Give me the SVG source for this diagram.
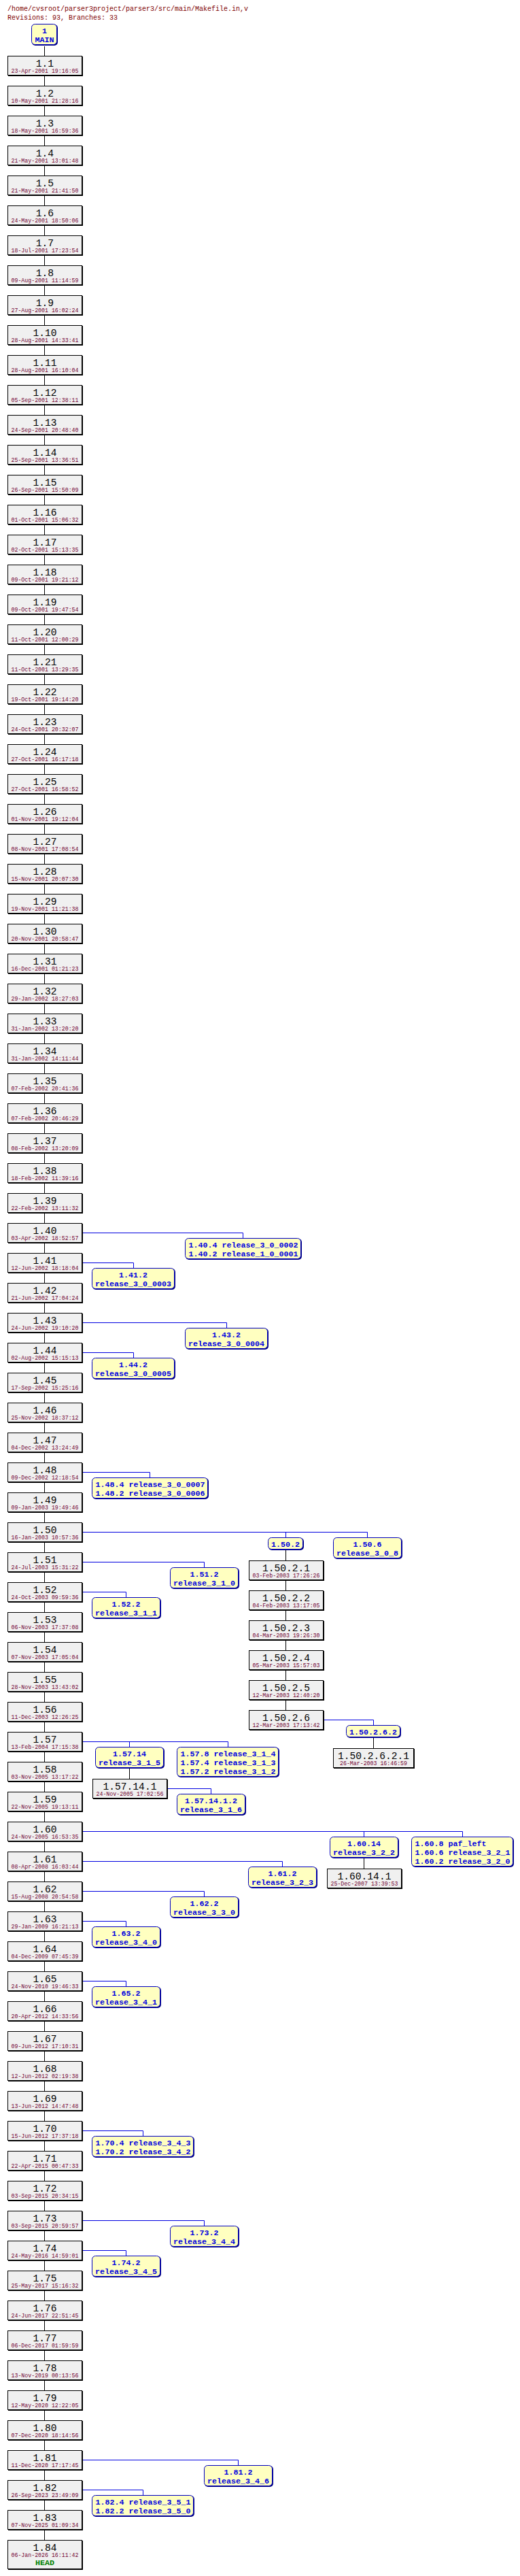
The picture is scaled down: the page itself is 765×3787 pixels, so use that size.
<svg xmlns="http://www.w3.org/2000/svg" xmlns:xlink="http://www.w3.org/1999/xlink" width="765" height="3787" viewBox="0 0 765 3787">
<style>
.b{fill:#f0f0f0;stroke:#000}
.t{fill:#ffffc0;stroke:#0000c0}
.ts{fill:#000080}
.r{font-family:"Liberation Mono",monospace;font-size:14.6px;text-anchor:middle;fill:#000}
.d{font-family:"Liberation Mono",monospace;font-size:8.25px;text-anchor:middle;fill:#700030}
.g{font-family:"Liberation Mono",monospace;font-size:11.67px;font-weight:bold;fill:#0000e0}
.m{text-anchor:middle}
.hd{font-family:"Liberation Mono",monospace;font-size:11.67px;font-weight:bold;fill:#008000;text-anchor:middle}
.k{stroke:#000;fill:none}
.u{stroke:#0000e0;fill:none}
.h{font-family:"Liberation Mono",monospace;font-size:10px;fill:#800000}
</style>
<defs>
<g id="bx"><rect x="1" y="1" width="110" height="29" fill="#000"/><rect x="0.5" y="0.5" width="109" height="28" class="b"/></g>
<g id="bxw"><rect x="1" y="1" width="119" height="29" fill="#000"/><rect x="0.5" y="0.5" width="118" height="28" class="b"/></g>
<g id="bxh"><rect x="1" y="1" width="110" height="43" fill="#000"/><rect x="0.5" y="0.5" width="109" height="42" class="b"/></g>
</defs>
<rect width="765" height="3787" fill="#fff"/>
<g id="title">
<text class="h" x="11" y="16">/home/cvsroot/parser3project/parser3/src/main/Makefile.in,v</text>
<text class="h" x="11" y="29">Revisions: 93, Branches: 33</text>
</g>
<g id="connectors">
<path class="k" d="M65.5,68V3734M420.5,2279V2514M549.5,2555V2570M190.5,2600V2615M535.5,2731V2747"/>
<path class="u" d="M122,1812.5H357.5V1820M122,1856.5H196.5V1864M122,1944.5H333.5V1952M122,1988.5H196.5V1996M122,2164.5H220.5V2172M122,2252.5H540.5V2260M420.5,2252.5V2260M477,2528.5H549.5V2536M122,2296.5H300.5V2304M122,2340.5H185.5V2348M122,2560.5H335.5V2568M190.5,2560.5V2568M247,2629.5H310.5V2637M122,2692.5H680.5V2700M535.5,2692.5V2700M122,2736.5H415.5V2744M122,2780.5H300.5V2788M122,2824.5H185.5V2832M122,2912.5H185.5V2920M122,3132.5H210.5V3140M122,3264.5H300.5V3272M122,3308.5H185.5V3316M122,3616.5H350.5V3624M122,3660.5H210.5V3668"/>
</g>
<g id="tMAIN"><rect class="ts" x="47" y="36" width="38" height="31" rx="5"/><rect class="t" x="46.5" y="35.5" width="37" height="30" rx="5"/><text class="g m" x="65.5" y="49">1</text><text class="g m" x="65.5" y="62">MAIN</text></g>
<g id="r1_1" transform="translate(11,82)"><use href="#bx"/><text class="r" x="55" y="16">1.1</text><text class="d" x="55" y="25">23-Apr-2001 19:16:05</text></g>
<g id="r1_2" transform="translate(11,126)"><use href="#bx"/><text class="r" x="55" y="16">1.2</text><text class="d" x="55" y="25">10-May-2001 21:28:16</text></g>
<g id="r1_3" transform="translate(11,170)"><use href="#bx"/><text class="r" x="55" y="16">1.3</text><text class="d" x="55" y="25">18-May-2001 16:59:36</text></g>
<g id="r1_4" transform="translate(11,214)"><use href="#bx"/><text class="r" x="55" y="16">1.4</text><text class="d" x="55" y="25">21-May-2001 13:01:48</text></g>
<g id="r1_5" transform="translate(11,258)"><use href="#bx"/><text class="r" x="55" y="16">1.5</text><text class="d" x="55" y="25">21-May-2001 21:41:50</text></g>
<g id="r1_6" transform="translate(11,302)"><use href="#bx"/><text class="r" x="55" y="16">1.6</text><text class="d" x="55" y="25">24-May-2001 18:50:06</text></g>
<g id="r1_7" transform="translate(11,346)"><use href="#bx"/><text class="r" x="55" y="16">1.7</text><text class="d" x="55" y="25">18-Jul-2001 17:23:54</text></g>
<g id="r1_8" transform="translate(11,390)"><use href="#bx"/><text class="r" x="55" y="16">1.8</text><text class="d" x="55" y="25">09-Aug-2001 11:14:59</text></g>
<g id="r1_9" transform="translate(11,434)"><use href="#bx"/><text class="r" x="55" y="16">1.9</text><text class="d" x="55" y="25">27-Aug-2001 16:02:24</text></g>
<g id="r1_10" transform="translate(11,478)"><use href="#bx"/><text class="r" x="55" y="16">1.10</text><text class="d" x="55" y="25">28-Aug-2001 14:33:41</text></g>
<g id="r1_11" transform="translate(11,522)"><use href="#bx"/><text class="r" x="55" y="16">1.11</text><text class="d" x="55" y="25">28-Aug-2001 16:10:04</text></g>
<g id="r1_12" transform="translate(11,566)"><use href="#bx"/><text class="r" x="55" y="16">1.12</text><text class="d" x="55" y="25">05-Sep-2001 12:38:11</text></g>
<g id="r1_13" transform="translate(11,610)"><use href="#bx"/><text class="r" x="55" y="16">1.13</text><text class="d" x="55" y="25">24-Sep-2001 20:48:40</text></g>
<g id="r1_14" transform="translate(11,654)"><use href="#bx"/><text class="r" x="55" y="16">1.14</text><text class="d" x="55" y="25">25-Sep-2001 13:36:51</text></g>
<g id="r1_15" transform="translate(11,698)"><use href="#bx"/><text class="r" x="55" y="16">1.15</text><text class="d" x="55" y="25">26-Sep-2001 15:50:09</text></g>
<g id="r1_16" transform="translate(11,742)"><use href="#bx"/><text class="r" x="55" y="16">1.16</text><text class="d" x="55" y="25">01-Oct-2001 15:06:32</text></g>
<g id="r1_17" transform="translate(11,786)"><use href="#bx"/><text class="r" x="55" y="16">1.17</text><text class="d" x="55" y="25">02-Oct-2001 15:13:35</text></g>
<g id="r1_18" transform="translate(11,830)"><use href="#bx"/><text class="r" x="55" y="16">1.18</text><text class="d" x="55" y="25">09-Oct-2001 19:21:12</text></g>
<g id="r1_19" transform="translate(11,874)"><use href="#bx"/><text class="r" x="55" y="16">1.19</text><text class="d" x="55" y="25">09-Oct-2001 19:47:54</text></g>
<g id="r1_20" transform="translate(11,918)"><use href="#bx"/><text class="r" x="55" y="16">1.20</text><text class="d" x="55" y="25">11-Oct-2001 12:00:29</text></g>
<g id="r1_21" transform="translate(11,962)"><use href="#bx"/><text class="r" x="55" y="16">1.21</text><text class="d" x="55" y="25">11-Oct-2001 13:29:35</text></g>
<g id="r1_22" transform="translate(11,1006)"><use href="#bx"/><text class="r" x="55" y="16">1.22</text><text class="d" x="55" y="25">19-Oct-2001 19:14:20</text></g>
<g id="r1_23" transform="translate(11,1050)"><use href="#bx"/><text class="r" x="55" y="16">1.23</text><text class="d" x="55" y="25">24-Oct-2001 20:32:07</text></g>
<g id="r1_24" transform="translate(11,1094)"><use href="#bx"/><text class="r" x="55" y="16">1.24</text><text class="d" x="55" y="25">27-Oct-2001 16:17:18</text></g>
<g id="r1_25" transform="translate(11,1138)"><use href="#bx"/><text class="r" x="55" y="16">1.25</text><text class="d" x="55" y="25">27-Oct-2001 16:58:52</text></g>
<g id="r1_26" transform="translate(11,1182)"><use href="#bx"/><text class="r" x="55" y="16">1.26</text><text class="d" x="55" y="25">01-Nov-2001 19:12:04</text></g>
<g id="r1_27" transform="translate(11,1226)"><use href="#bx"/><text class="r" x="55" y="16">1.27</text><text class="d" x="55" y="25">08-Nov-2001 17:08:54</text></g>
<g id="r1_28" transform="translate(11,1270)"><use href="#bx"/><text class="r" x="55" y="16">1.28</text><text class="d" x="55" y="25">15-Nov-2001 20:07:30</text></g>
<g id="r1_29" transform="translate(11,1314)"><use href="#bx"/><text class="r" x="55" y="16">1.29</text><text class="d" x="55" y="25">19-Nov-2001 11:21:38</text></g>
<g id="r1_30" transform="translate(11,1358)"><use href="#bx"/><text class="r" x="55" y="16">1.30</text><text class="d" x="55" y="25">20-Nov-2001 20:58:47</text></g>
<g id="r1_31" transform="translate(11,1402)"><use href="#bx"/><text class="r" x="55" y="16">1.31</text><text class="d" x="55" y="25">16-Dec-2001 01:21:23</text></g>
<g id="r1_32" transform="translate(11,1446)"><use href="#bx"/><text class="r" x="55" y="16">1.32</text><text class="d" x="55" y="25">29-Jan-2002 18:27:03</text></g>
<g id="r1_33" transform="translate(11,1490)"><use href="#bx"/><text class="r" x="55" y="16">1.33</text><text class="d" x="55" y="25">31-Jan-2002 13:20:20</text></g>
<g id="r1_34" transform="translate(11,1534)"><use href="#bx"/><text class="r" x="55" y="16">1.34</text><text class="d" x="55" y="25">31-Jan-2002 14:11:44</text></g>
<g id="r1_35" transform="translate(11,1578)"><use href="#bx"/><text class="r" x="55" y="16">1.35</text><text class="d" x="55" y="25">07-Feb-2002 20:41:36</text></g>
<g id="r1_36" transform="translate(11,1622)"><use href="#bx"/><text class="r" x="55" y="16">1.36</text><text class="d" x="55" y="25">07-Feb-2002 20:46:29</text></g>
<g id="r1_37" transform="translate(11,1666)"><use href="#bx"/><text class="r" x="55" y="16">1.37</text><text class="d" x="55" y="25">08-Feb-2002 13:20:09</text></g>
<g id="r1_38" transform="translate(11,1710)"><use href="#bx"/><text class="r" x="55" y="16">1.38</text><text class="d" x="55" y="25">18-Feb-2002 11:39:16</text></g>
<g id="r1_39" transform="translate(11,1754)"><use href="#bx"/><text class="r" x="55" y="16">1.39</text><text class="d" x="55" y="25">22-Feb-2002 13:11:32</text></g>
<g id="r1_40" transform="translate(11,1798)"><use href="#bx"/><text class="r" x="55" y="16">1.40</text><text class="d" x="55" y="25">03-Apr-2002 18:52:57</text></g>
<g id="r1_41" transform="translate(11,1842)"><use href="#bx"/><text class="r" x="55" y="16">1.41</text><text class="d" x="55" y="25">12-Jun-2002 18:18:04</text></g>
<g id="r1_42" transform="translate(11,1886)"><use href="#bx"/><text class="r" x="55" y="16">1.42</text><text class="d" x="55" y="25">21-Jun-2002 17:04:24</text></g>
<g id="r1_43" transform="translate(11,1930)"><use href="#bx"/><text class="r" x="55" y="16">1.43</text><text class="d" x="55" y="25">24-Jun-2002 19:10:20</text></g>
<g id="r1_44" transform="translate(11,1974)"><use href="#bx"/><text class="r" x="55" y="16">1.44</text><text class="d" x="55" y="25">02-Aug-2002 15:15:13</text></g>
<g id="r1_45" transform="translate(11,2018)"><use href="#bx"/><text class="r" x="55" y="16">1.45</text><text class="d" x="55" y="25">17-Sep-2002 15:25:16</text></g>
<g id="r1_46" transform="translate(11,2062)"><use href="#bx"/><text class="r" x="55" y="16">1.46</text><text class="d" x="55" y="25">25-Nov-2002 18:37:12</text></g>
<g id="r1_47" transform="translate(11,2106)"><use href="#bx"/><text class="r" x="55" y="16">1.47</text><text class="d" x="55" y="25">04-Dec-2002 13:24:49</text></g>
<g id="r1_48" transform="translate(11,2150)"><use href="#bx"/><text class="r" x="55" y="16">1.48</text><text class="d" x="55" y="25">09-Dec-2002 12:18:54</text></g>
<g id="r1_49" transform="translate(11,2194)"><use href="#bx"/><text class="r" x="55" y="16">1.49</text><text class="d" x="55" y="25">09-Jan-2003 19:49:46</text></g>
<g id="r1_50" transform="translate(11,2238)"><use href="#bx"/><text class="r" x="55" y="16">1.50</text><text class="d" x="55" y="25">16-Jan-2003 10:57:36</text></g>
<g id="r1_51" transform="translate(11,2282)"><use href="#bx"/><text class="r" x="55" y="16">1.51</text><text class="d" x="55" y="25">24-Jul-2003 15:31:22</text></g>
<g id="r1_52" transform="translate(11,2326)"><use href="#bx"/><text class="r" x="55" y="16">1.52</text><text class="d" x="55" y="25">24-Oct-2003 09:59:36</text></g>
<g id="r1_53" transform="translate(11,2370)"><use href="#bx"/><text class="r" x="55" y="16">1.53</text><text class="d" x="55" y="25">06-Nov-2003 17:37:08</text></g>
<g id="r1_54" transform="translate(11,2414)"><use href="#bx"/><text class="r" x="55" y="16">1.54</text><text class="d" x="55" y="25">07-Nov-2003 17:05:04</text></g>
<g id="r1_55" transform="translate(11,2458)"><use href="#bx"/><text class="r" x="55" y="16">1.55</text><text class="d" x="55" y="25">28-Nov-2003 13:43:02</text></g>
<g id="r1_56" transform="translate(11,2502)"><use href="#bx"/><text class="r" x="55" y="16">1.56</text><text class="d" x="55" y="25">11-Dec-2003 12:26:25</text></g>
<g id="r1_57" transform="translate(11,2546)"><use href="#bx"/><text class="r" x="55" y="16">1.57</text><text class="d" x="55" y="25">13-Feb-2004 17:15:38</text></g>
<g id="r1_58" transform="translate(11,2590)"><use href="#bx"/><text class="r" x="55" y="16">1.58</text><text class="d" x="55" y="25">03-Nov-2005 13:17:22</text></g>
<g id="r1_59" transform="translate(11,2634)"><use href="#bx"/><text class="r" x="55" y="16">1.59</text><text class="d" x="55" y="25">22-Nov-2005 19:13:11</text></g>
<g id="r1_60" transform="translate(11,2678)"><use href="#bx"/><text class="r" x="55" y="16">1.60</text><text class="d" x="55" y="25">24-Nov-2005 16:53:35</text></g>
<g id="r1_61" transform="translate(11,2722)"><use href="#bx"/><text class="r" x="55" y="16">1.61</text><text class="d" x="55" y="25">08-Apr-2008 16:03:44</text></g>
<g id="r1_62" transform="translate(11,2766)"><use href="#bx"/><text class="r" x="55" y="16">1.62</text><text class="d" x="55" y="25">15-Aug-2008 20:54:58</text></g>
<g id="r1_63" transform="translate(11,2810)"><use href="#bx"/><text class="r" x="55" y="16">1.63</text><text class="d" x="55" y="25">29-Jan-2009 16:21:13</text></g>
<g id="r1_64" transform="translate(11,2854)"><use href="#bx"/><text class="r" x="55" y="16">1.64</text><text class="d" x="55" y="25">04-Dec-2009 07:45:39</text></g>
<g id="r1_65" transform="translate(11,2898)"><use href="#bx"/><text class="r" x="55" y="16">1.65</text><text class="d" x="55" y="25">24-Nov-2010 19:46:33</text></g>
<g id="r1_66" transform="translate(11,2942)"><use href="#bx"/><text class="r" x="55" y="16">1.66</text><text class="d" x="55" y="25">20-Apr-2012 14:33:56</text></g>
<g id="r1_67" transform="translate(11,2986)"><use href="#bx"/><text class="r" x="55" y="16">1.67</text><text class="d" x="55" y="25">09-Jun-2012 17:10:31</text></g>
<g id="r1_68" transform="translate(11,3030)"><use href="#bx"/><text class="r" x="55" y="16">1.68</text><text class="d" x="55" y="25">12-Jun-2012 02:19:38</text></g>
<g id="r1_69" transform="translate(11,3074)"><use href="#bx"/><text class="r" x="55" y="16">1.69</text><text class="d" x="55" y="25">13-Jun-2012 14:47:48</text></g>
<g id="r1_70" transform="translate(11,3118)"><use href="#bx"/><text class="r" x="55" y="16">1.70</text><text class="d" x="55" y="25">15-Jun-2012 17:37:18</text></g>
<g id="r1_71" transform="translate(11,3162)"><use href="#bx"/><text class="r" x="55" y="16">1.71</text><text class="d" x="55" y="25">22-Apr-2015 00:47:33</text></g>
<g id="r1_72" transform="translate(11,3206)"><use href="#bx"/><text class="r" x="55" y="16">1.72</text><text class="d" x="55" y="25">03-Sep-2015 20:34:15</text></g>
<g id="r1_73" transform="translate(11,3250)"><use href="#bx"/><text class="r" x="55" y="16">1.73</text><text class="d" x="55" y="25">03-Sep-2015 20:59:57</text></g>
<g id="r1_74" transform="translate(11,3294)"><use href="#bx"/><text class="r" x="55" y="16">1.74</text><text class="d" x="55" y="25">24-May-2016 14:59:01</text></g>
<g id="r1_75" transform="translate(11,3338)"><use href="#bx"/><text class="r" x="55" y="16">1.75</text><text class="d" x="55" y="25">25-May-2017 15:16:32</text></g>
<g id="r1_76" transform="translate(11,3382)"><use href="#bx"/><text class="r" x="55" y="16">1.76</text><text class="d" x="55" y="25">24-Jun-2017 22:51:45</text></g>
<g id="r1_77" transform="translate(11,3426)"><use href="#bx"/><text class="r" x="55" y="16">1.77</text><text class="d" x="55" y="25">06-Dec-2017 01:59:59</text></g>
<g id="r1_78" transform="translate(11,3470)"><use href="#bx"/><text class="r" x="55" y="16">1.78</text><text class="d" x="55" y="25">13-Nov-2019 00:13:56</text></g>
<g id="r1_79" transform="translate(11,3514)"><use href="#bx"/><text class="r" x="55" y="16">1.79</text><text class="d" x="55" y="25">12-May-2020 12:22:05</text></g>
<g id="r1_80" transform="translate(11,3558)"><use href="#bx"/><text class="r" x="55" y="16">1.80</text><text class="d" x="55" y="25">07-Dec-2020 18:14:56</text></g>
<g id="r1_81" transform="translate(11,3602)"><use href="#bx"/><text class="r" x="55" y="16">1.81</text><text class="d" x="55" y="25">11-Dec-2020 17:17:45</text></g>
<g id="r1_82" transform="translate(11,3646)"><use href="#bx"/><text class="r" x="55" y="16">1.82</text><text class="d" x="55" y="25">26-Sep-2023 23:49:09</text></g>
<g id="r1_83" transform="translate(11,3690)"><use href="#bx"/><text class="r" x="55" y="16">1.83</text><text class="d" x="55" y="25">07-Nov-2025 01:09:34</text></g>
<g id="r1_84" transform="translate(11,3734)"><use href="#bxh"/><text class="r" x="55" y="16">1.84</text><text class="d" x="55" y="25">06-Jan-2026 16:11:42</text><text class="hd" x="55" y="37">HEAD</text></g>
<g id="r1_50_2_1" transform="translate(366,2294)"><use href="#bx"/><text class="r" x="55" y="16">1.50.2.1</text><text class="d" x="55" y="25">03-Feb-2003 17:26:26</text></g>
<g id="r1_50_2_2" transform="translate(366,2338)"><use href="#bx"/><text class="r" x="55" y="16">1.50.2.2</text><text class="d" x="55" y="25">04-Feb-2003 13:17:05</text></g>
<g id="r1_50_2_3" transform="translate(366,2382)"><use href="#bx"/><text class="r" x="55" y="16">1.50.2.3</text><text class="d" x="55" y="25">04-Mar-2003 19:26:30</text></g>
<g id="r1_50_2_4" transform="translate(366,2426)"><use href="#bx"/><text class="r" x="55" y="16">1.50.2.4</text><text class="d" x="55" y="25">05-Mar-2003 15:57:03</text></g>
<g id="r1_50_2_5" transform="translate(366,2470)"><use href="#bx"/><text class="r" x="55" y="16">1.50.2.5</text><text class="d" x="55" y="25">12-Mar-2003 12:40:20</text></g>
<g id="r1_50_2_6" transform="translate(366,2514)"><use href="#bx"/><text class="r" x="55" y="16">1.50.2.6</text><text class="d" x="55" y="25">12-Mar-2003 17:13:42</text></g>
<g id="r1_50_2_6_2_1" transform="translate(490,2570)"><use href="#bxw"/><text class="r" x="59.5" y="16">1.50.2.6.2.1</text><text class="d" x="59.5" y="25">26-Mar-2003 16:46:59</text></g>
<g id="r1_57_14_1" transform="translate(136,2615)"><use href="#bx"/><text class="r" x="55" y="16">1.57.14.1</text><text class="d" x="55" y="25">24-Nov-2005 17:02:56</text></g>
<g id="r1_60_14_1" transform="translate(481,2747)"><use href="#bx"/><text class="r" x="55" y="16">1.60.14.1</text><text class="d" x="55" y="25">25-Dec-2007 13:39:53</text></g>
<g id="t1_40"><rect class="ts" x="273" y="1821" width="171" height="31" rx="5"/><rect class="t" x="272.5" y="1820.5" width="170" height="30" rx="5"/><text class="g" x="277.5" y="1834">1.40.4 release_3_0_0002</text><text class="g" x="277.5" y="1847">1.40.2 release_1_0_0001</text></g>
<g id="t1_41"><rect class="ts" x="136" y="1865" width="122" height="31" rx="5"/><rect class="t" x="135.5" y="1864.5" width="121" height="30" rx="5"/><text class="g m" x="196" y="1878">1.41.2</text><text class="g m" x="196" y="1891">release_3_0_0003</text></g>
<g id="t1_43"><rect class="ts" x="273" y="1953" width="122" height="31" rx="5"/><rect class="t" x="272.5" y="1952.5" width="121" height="30" rx="5"/><text class="g m" x="333" y="1966">1.43.2</text><text class="g m" x="333" y="1979">release_3_0_0004</text></g>
<g id="t1_44"><rect class="ts" x="136" y="1997" width="122" height="31" rx="5"/><rect class="t" x="135.5" y="1996.5" width="121" height="30" rx="5"/><text class="g m" x="196" y="2010">1.44.2</text><text class="g m" x="196" y="2023">release_3_0_0005</text></g>
<g id="t1_48"><rect class="ts" x="136" y="2173" width="171" height="31" rx="5"/><rect class="t" x="135.5" y="2172.5" width="170" height="30" rx="5"/><text class="g" x="140.5" y="2186">1.48.4 release_3_0_0007</text><text class="g" x="140.5" y="2199">1.48.2 release_3_0_0006</text></g>
<g id="t1_50_2"><rect class="ts" x="395" y="2261" width="52" height="18" rx="5"/><rect class="t" x="394.5" y="2260.5" width="51" height="17" rx="5"/><text class="g m" x="420" y="2274">1.50.2</text></g>
<g id="t1_50_6"><rect class="ts" x="491" y="2261" width="101" height="31" rx="5"/><rect class="t" x="490.5" y="2260.5" width="100" height="30" rx="5"/><text class="g m" x="540.5" y="2274">1.50.6</text><text class="g m" x="540.5" y="2287">release_3_0_8</text></g>
<g id="t1_51"><rect class="ts" x="251" y="2305" width="101" height="31" rx="5"/><rect class="t" x="250.5" y="2304.5" width="100" height="30" rx="5"/><text class="g m" x="300.5" y="2318">1.51.2</text><text class="g m" x="300.5" y="2331">release_3_1_0</text></g>
<g id="t1_52"><rect class="ts" x="136" y="2349" width="101" height="31" rx="5"/><rect class="t" x="135.5" y="2348.5" width="100" height="30" rx="5"/><text class="g m" x="185.5" y="2362">1.52.2</text><text class="g m" x="185.5" y="2375">release_3_1_1</text></g>
<g id="t1_50_2_6_2"><rect class="ts" x="510" y="2537" width="80" height="18" rx="5"/><rect class="t" x="509.5" y="2536.5" width="79" height="17" rx="5"/><text class="g m" x="549" y="2550">1.50.2.6.2</text></g>
<g id="t1_57_14"><rect class="ts" x="141" y="2569" width="101" height="31" rx="5"/><rect class="t" x="140.5" y="2568.5" width="100" height="30" rx="5"/><text class="g m" x="190.5" y="2582">1.57.14</text><text class="g m" x="190.5" y="2595">release_3_1_5</text></g>
<g id="t1_57_8"><rect class="ts" x="261" y="2569" width="150" height="44" rx="5"/><rect class="t" x="260.5" y="2568.5" width="149" height="43" rx="5"/><text class="g" x="265.5" y="2582">1.57.8 release_3_1_4</text><text class="g" x="265.5" y="2595">1.57.4 release_3_1_3</text><text class="g" x="265.5" y="2608">1.57.2 release_3_1_2</text></g>
<g id="t1_57_14_1_2"><rect class="ts" x="261" y="2638" width="101" height="31" rx="5"/><rect class="t" x="260.5" y="2637.5" width="100" height="30" rx="5"/><text class="g m" x="310.5" y="2651">1.57.14.1.2</text><text class="g m" x="310.5" y="2664">release_3_1_6</text></g>
<g id="t1_60_14"><rect class="ts" x="486" y="2701" width="101" height="31" rx="5"/><rect class="t" x="485.5" y="2700.5" width="100" height="30" rx="5"/><text class="g m" x="535.5" y="2714">1.60.14</text><text class="g m" x="535.5" y="2727">release_3_2_2</text></g>
<g id="t1_60_8"><rect class="ts" x="606" y="2701" width="150" height="44" rx="5"/><rect class="t" x="605.5" y="2700.5" width="149" height="43" rx="5"/><text class="g" x="610.5" y="2714">1.60.8 paf_left</text><text class="g" x="610.5" y="2727">1.60.6 release_3_2_1</text><text class="g" x="610.5" y="2740">1.60.2 release_3_2_0</text></g>
<g id="t1_61"><rect class="ts" x="366" y="2745" width="101" height="31" rx="5"/><rect class="t" x="365.5" y="2744.5" width="100" height="30" rx="5"/><text class="g m" x="415.5" y="2758">1.61.2</text><text class="g m" x="415.5" y="2771">release_3_2_3</text></g>
<g id="t1_62"><rect class="ts" x="251" y="2789" width="101" height="31" rx="5"/><rect class="t" x="250.5" y="2788.5" width="100" height="30" rx="5"/><text class="g m" x="300.5" y="2802">1.62.2</text><text class="g m" x="300.5" y="2815">release_3_3_0</text></g>
<g id="t1_63"><rect class="ts" x="136" y="2833" width="101" height="31" rx="5"/><rect class="t" x="135.5" y="2832.5" width="100" height="30" rx="5"/><text class="g m" x="185.5" y="2846">1.63.2</text><text class="g m" x="185.5" y="2859">release_3_4_0</text></g>
<g id="t1_65"><rect class="ts" x="136" y="2921" width="101" height="31" rx="5"/><rect class="t" x="135.5" y="2920.5" width="100" height="30" rx="5"/><text class="g m" x="185.5" y="2934">1.65.2</text><text class="g m" x="185.5" y="2947">release_3_4_1</text></g>
<g id="t1_70"><rect class="ts" x="136" y="3141" width="150" height="31" rx="5"/><rect class="t" x="135.5" y="3140.5" width="149" height="30" rx="5"/><text class="g" x="140.5" y="3154">1.70.4 release_3_4_3</text><text class="g" x="140.5" y="3167">1.70.2 release_3_4_2</text></g>
<g id="t1_73"><rect class="ts" x="251" y="3273" width="101" height="31" rx="5"/><rect class="t" x="250.5" y="3272.5" width="100" height="30" rx="5"/><text class="g m" x="300.5" y="3286">1.73.2</text><text class="g m" x="300.5" y="3299">release_3_4_4</text></g>
<g id="t1_74"><rect class="ts" x="136" y="3317" width="101" height="31" rx="5"/><rect class="t" x="135.5" y="3316.5" width="100" height="30" rx="5"/><text class="g m" x="185.5" y="3330">1.74.2</text><text class="g m" x="185.5" y="3343">release_3_4_5</text></g>
<g id="t1_81"><rect class="ts" x="301" y="3625" width="101" height="31" rx="5"/><rect class="t" x="300.5" y="3624.5" width="100" height="30" rx="5"/><text class="g m" x="350.5" y="3638">1.81.2</text><text class="g m" x="350.5" y="3651">release_3_4_6</text></g>
<g id="t1_82"><rect class="ts" x="136" y="3669" width="150" height="31" rx="5"/><rect class="t" x="135.5" y="3668.5" width="149" height="30" rx="5"/><text class="g" x="140.5" y="3682">1.82.4 release_3_5_1</text><text class="g" x="140.5" y="3695">1.82.2 release_3_5_0</text></g>
</svg>
